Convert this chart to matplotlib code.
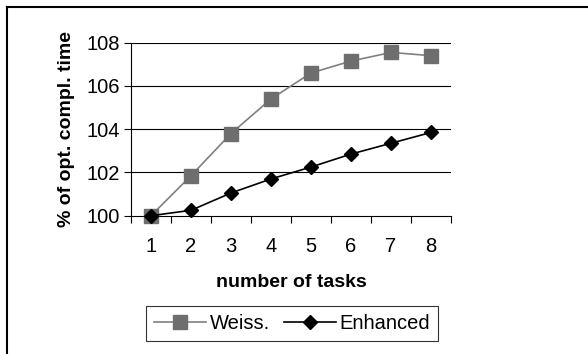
import matplotlib
matplotlib.use('Agg')
from matplotlib import pyplot as plt
from matplotlib.lines import Line2D

tasks = [1, 2, 3, 4, 5, 6, 7, 8]
weiss = [100.0, 101.85, 103.8, 105.4, 106.6, 107.15, 107.55, 107.4]
enhanced = [100.0, 100.25, 101.05, 101.7, 102.25, 102.85, 103.35, 103.85]
yticks = [100, 102, 104, 106, 108]

plt.rcParams['font.family'] = ['Liberation Sans', 'DejaVu Sans']
plt.rcParams['font.size'] = 14.5

fig = plt.figure(figsize=(5.88, 3.54), dpi=100)
ax = fig.add_axes([131/588, 1-215.7/354, 320/588, (215.7-42.7)/354])

ax.plot(tasks, weiss, color='#808080', lw=1.2, marker='s', ms=9.5,
        mfc='#6e6e6e', mec='#6e6e6e', label='Weiss.', clip_on=False, zorder=3)
ax.plot(tasks, enhanced, color='black', lw=1.2, marker='D', ms=7.5,
        mfc='black', mec='black', label='Enhanced', clip_on=False, zorder=4)

ax.set_xlim(0.5, 8.5)
ax.set_ylim(100, 108)
ax.set_yticks(yticks)
ax.set_xticks(tasks)
ax.set_xticks([t - 0.5 for t in tasks] + [8.5], minor=True)
ax.tick_params(axis='x', which='major', length=0, pad=15)
ax.tick_params(axis='x', which='minor', length=5, direction='out', width=0.8)
ax.tick_params(axis='y', length=5, direction='out', width=0.8, pad=3)

for v in yticks[1:]:
    ax.axhline(v, color='black', lw=0.8, zorder=1)

ax.spines['top'].set_visible(False)
ax.spines['right'].set_visible(False)
ax.spines['left'].set_linewidth(0.8)
ax.spines['bottom'].set_linewidth(0.8)

ax.set_xlabel('number of tasks', fontweight='bold', fontsize=14, labelpad=13)
ax.set_ylabel('% of opt. compl. time', fontweight='bold', fontsize=14, labelpad=8)

leg = fig.legend(loc='center', bbox_to_anchor=(292/588, 1-323.5/354),
                 ncol=2, frameon=True, fancybox=False,
                 handlelength=2.6, handletextpad=0.15, columnspacing=0.7,
                 borderpad=0.4, fontsize=14.5)
leg.get_frame().set_edgecolor('black')
leg.get_frame().set_linewidth(0.8)

# outer chart border (only top and left visible in the crop)
fig.add_artist(Line2D([7/588, 7/588], [0, 1-7/354], color='black', lw=1.5,
                      transform=fig.transFigure))
fig.add_artist(Line2D([7/588, 1], [1-7/354, 1-7/354], color='black', lw=1.5,
                      transform=fig.transFigure))

fig.savefig('out.png', dpi=100)
